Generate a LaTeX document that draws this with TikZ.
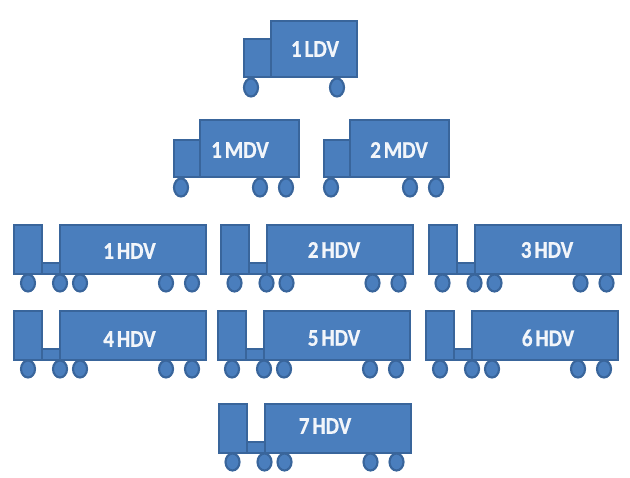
\documentclass[tikz,border=0pt]{standalone}
\usepackage{fontspec}
\setmainfont[WordSpace=0.6,BoldFeatures={FakeBold=0.6}]{Carlito}
\definecolor{truckfill}{HTML}{4A7EBD}
\definecolor{truckedge}{HTML}{39659B}
\tikzset{
  x=0.75pt,y=-0.75pt,
  body/.style={fill=truckfill,draw=truckedge,line width=1.5pt},
  wheel/.style={fill=truckfill,draw=truckedge,line width=1.6pt},
  tag/.style={text=white,font=\bfseries\fontsize{18}{20}\selectfont,inner sep=0pt,
    xscale=.88,transform shape,opacity=.93}
}
% #1 x offset, #2 y offset, #3 label, #4 label centre x, #5 label centre y
\newcommand{\hdvtruck}[5]{
  \begin{scope}[shift={(#1,#2)}]
    \draw[body] (14,225) rectangle (42,274);
    \draw[body] (42,263) rectangle (60,274);
    \draw[body] (60,225) rectangle (206,274);
    \foreach \wx in {28,60,80,166,192}
      \draw[wheel] (\wx,283) ellipse [x radius=7,y radius=8.5];
  \end{scope}
  \node[tag] at (#4,#5) {#3};
}
\begin{document}
\begin{tikzpicture}
\useasboundingbox (0,0) rectangle (630,477);
% LDV
\draw[body] (244,39) rectangle (271,77);
\draw[body] (271,21) rectangle (357,77);
\foreach \wx in {251,337}
  \draw[wheel] (\wx,87.5) ellipse [x radius=7,y radius=9];
\node[tag] at (315,49) {1 LDV};
% MDV
\foreach \ox/\lab/\tx in {0/1 MDV/240,150/2 MDV/399}{
  \begin{scope}[shift={(\ox,0)}]
    \draw[body] (174,140) rectangle (200,177);
    \draw[body] (200,120) rectangle (299,177);
    \foreach \wx in {181,260,286}
      \draw[wheel] (\wx,187.5) ellipse [x radius=7,y radius=9];
  \end{scope}
  \node[tag] at (\tx,150) {\lab};
}
% HDV
\hdvtruck{0}{0}{1 HDV}{129.5}{251}
\hdvtruck{206.5}{0}{2 HDV}{334}{250}
\hdvtruck{414.5}{0}{3 HDV}{547}{250}
\hdvtruck{0}{86}{4 HDV}{129.5}{339}
\hdvtruck{204}{86}{5 HDV}{334}{338}
\hdvtruck{412}{86}{6 HDV}{548}{338}
\hdvtruck{204.5}{179}{7 HDV}{325}{426}
\end{tikzpicture}
\end{document}
